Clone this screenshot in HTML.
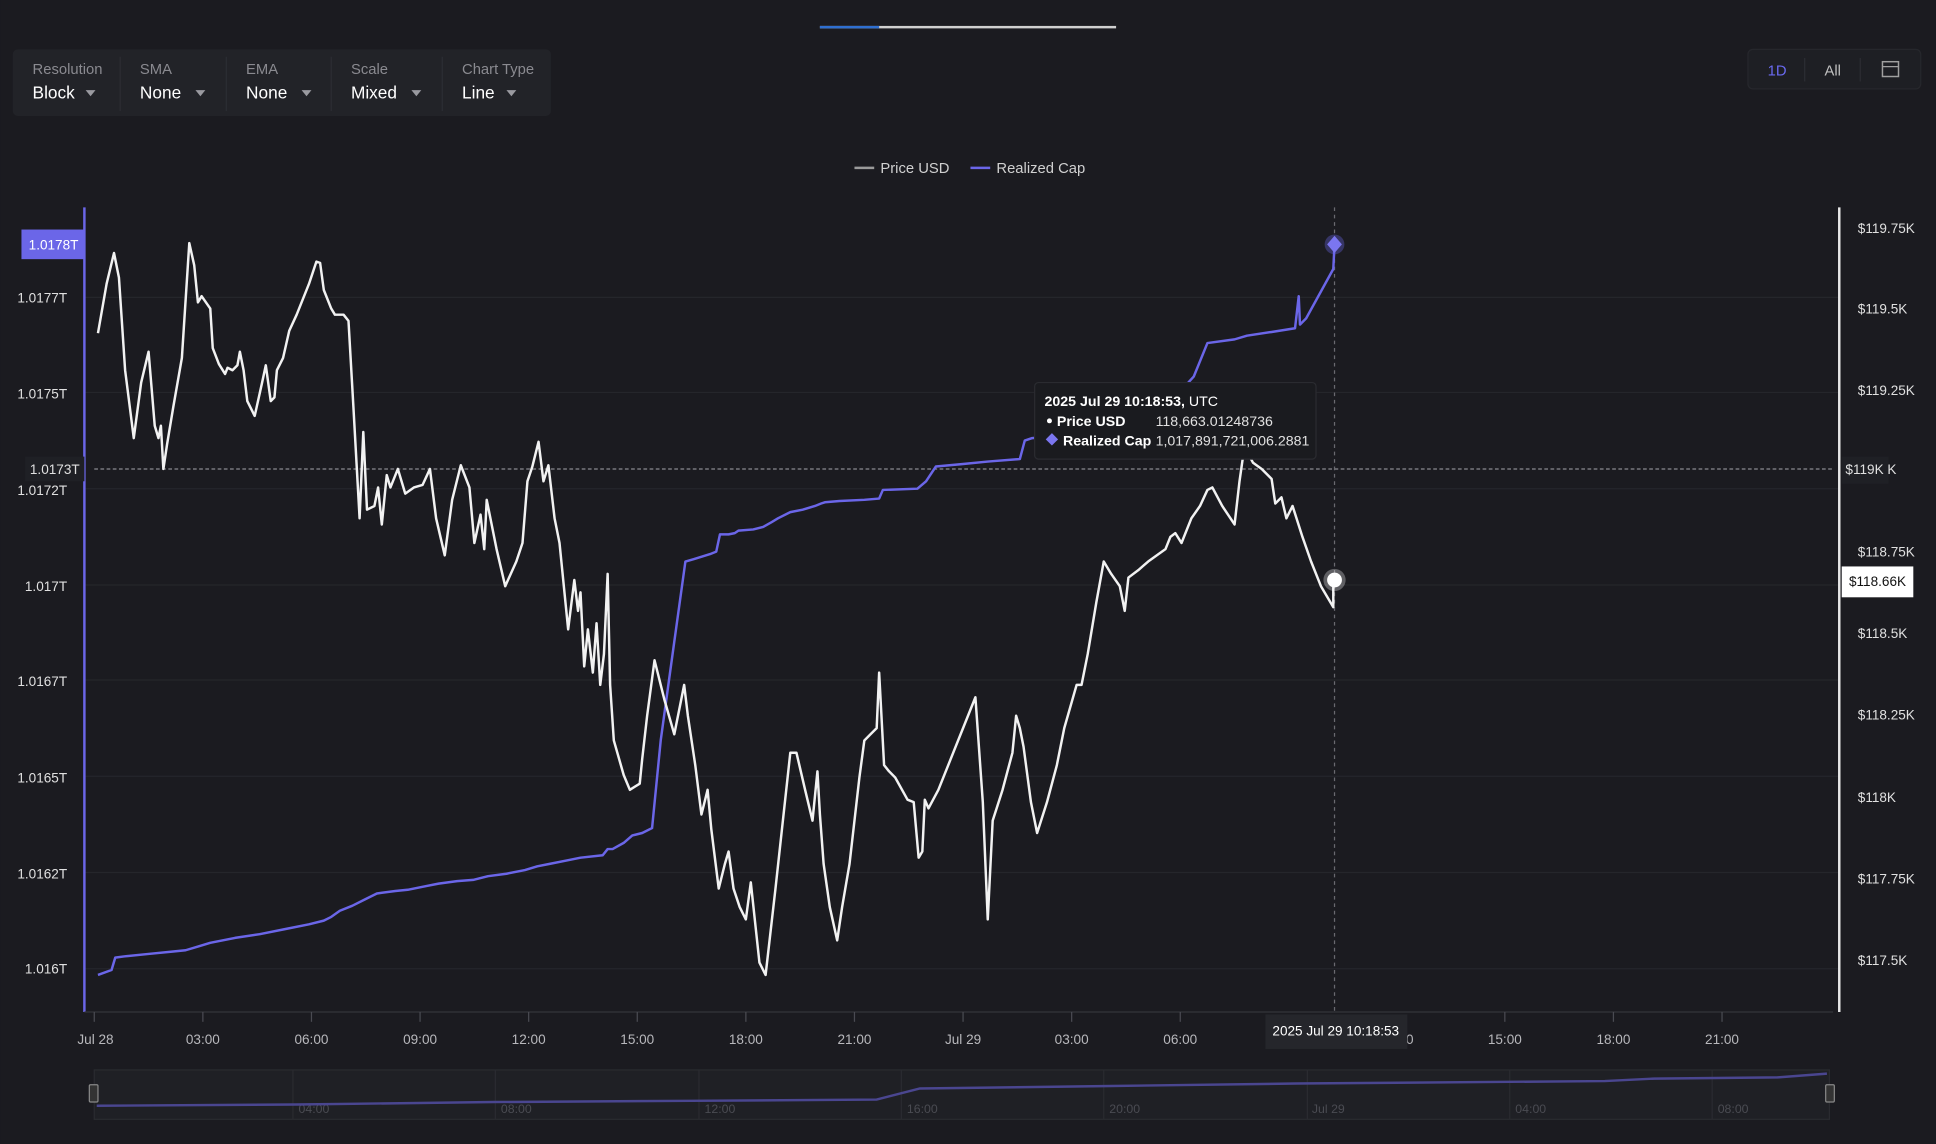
<!DOCTYPE html>
<html><head><meta charset="utf-8"><style>
html,body{margin:0;padding:0;background:#1b1b20;}
svg{display:block;font-family:"Liberation Sans",sans-serif;}
</style></head><body>
<svg width="1936" height="1144" viewBox="0 0 1568 927" xmlns="http://www.w3.org/2000/svg">
<rect width="1568" height="927" fill="#1b1b20"/>
<!-- progress bar -->
<rect x="664" y="21" width="240" height="2" fill="#d0d0d0"/>
<rect x="664" y="21" width="48" height="2" fill="#2f6fd0"/>
<!-- toolbar -->
<rect x="10" y="40" width="436" height="54" rx="4" fill="#222328"/>
<g fill="#8a8a90" font-size="12">
<text x="26" y="60">Resolution</text><text x="113" y="60">SMA</text><text x="199" y="60">EMA</text><text x="284" y="60">Scale</text><text x="374" y="60">Chart Type</text>
</g>
<g fill="#ffffff" font-size="14">
<text x="26" y="80">Block</text><text x="113" y="80">None</text><text x="199" y="80">None</text><text x="284" y="80">Mixed</text><text x="374" y="80">Line</text>
</g>
<g fill="#9a9aa0">
<path d="M69 73l8 0-4 5z"/><path d="M158 73l8 0-4 5z"/><path d="M244 73l8 0-4 5z"/><path d="M333 73l8 0-4 5z"/><path d="M410 73l8 0-4 5z"/>
</g>
<g stroke="#2c2d33"><line x1="97" y1="46" x2="97" y2="90"/><line x1="183" y1="46" x2="183" y2="90"/><line x1="268" y1="46" x2="268" y2="90"/><line x1="358" y1="46" x2="358" y2="90"/></g>
<!-- right buttons -->
<rect x="1416" y="40" width="140" height="32" rx="4" fill="#1e1f24" stroke="#26272c"/>
<text x="1432" y="61" fill="#6a6af0" font-size="12">1D</text>
<text x="1478" y="61" fill="#c0c0c0" font-size="12">All</text>
<line x1="1462" y1="47" x2="1462" y2="66" stroke="#2c2d33"/><line x1="1507" y1="47" x2="1507" y2="66" stroke="#2c2d33"/>
<rect x="1525" y="50" width="13" height="12" fill="none" stroke="#a0a0a0" stroke-width="1.2"/><line x1="1525" y1="54" x2="1538" y2="54" stroke="#a0a0a0"/>
<!-- legend -->
<line x1="692" y1="136" x2="708" y2="136" stroke="#9a9a9a" stroke-width="2"/>
<text x="713" y="140" fill="#d0d0d0" font-size="12">Price USD</text>
<line x1="786" y1="136" x2="802" y2="136" stroke="#6b66e8" stroke-width="2"/>
<text x="807" y="140" fill="#d0d0d0" font-size="12">Realized Cap</text>
<!-- grid -->
<g stroke="#25262b" stroke-width="1">
<line x1="68" y1="241" x2="1490" y2="241"/><line x1="68" y1="318" x2="1490" y2="318"/><line x1="68" y1="396" x2="1490" y2="396"/><line x1="68" y1="474" x2="1490" y2="474"/><line x1="68" y1="551" x2="1490" y2="551"/><line x1="68" y1="629" x2="1490" y2="629"/><line x1="68" y1="707" x2="1490" y2="707"/><line x1="68" y1="785" x2="1490" y2="785"/>
</g>
<!-- axes -->
<line x1="68" y1="168" x2="68" y2="820" stroke="#6b66e8" stroke-width="2"/>
<line x1="1490" y1="168" x2="1490" y2="820" stroke="#e8e8e8" stroke-width="2"/>
<line x1="68" y1="820" x2="1485" y2="820" stroke="#34353b"/>
<g stroke="#4a4b52">
<line x1="76" y1="820" x2="76" y2="828"/><line x1="164" y1="820" x2="164" y2="828"/><line x1="252" y1="820" x2="252" y2="828"/><line x1="340" y1="820" x2="340" y2="828"/><line x1="428" y1="820" x2="428" y2="828"/><line x1="516" y1="820" x2="516" y2="828"/><line x1="604" y1="820" x2="604" y2="828"/><line x1="692" y1="820" x2="692" y2="828"/><line x1="780" y1="820" x2="780" y2="828"/><line x1="868" y1="820" x2="868" y2="828"/><line x1="956" y1="820" x2="956" y2="828"/><line x1="1219" y1="820" x2="1219" y2="828"/><line x1="1307" y1="820" x2="1307" y2="828"/><line x1="1395" y1="820" x2="1395" y2="828"/>
</g>
<g fill="#b8b8bc" font-size="11" text-anchor="middle">
<text x="77" y="846">Jul 28</text><text x="164" y="846">03:00</text><text x="252" y="846">06:00</text><text x="340" y="846">09:00</text><text x="428" y="846">12:00</text><text x="516" y="846">15:00</text><text x="604" y="846">18:00</text><text x="692" y="846">21:00</text><text x="780" y="846">Jul 29</text><text x="868" y="846">03:00</text><text x="956" y="846">06:00</text><text x="1142" y="846">0</text><text x="1219" y="846">15:00</text><text x="1307" y="846">18:00</text><text x="1395" y="846">21:00</text>
</g>
<g fill="#e0e0e0" font-size="11" text-anchor="end">
<text x="54" y="245">1.0177T</text><text x="54" y="323">1.0175T</text><text x="54" y="401">1.0172T</text><text x="54" y="479">1.017T</text><text x="54" y="556">1.0167T</text><text x="54" y="634">1.0165T</text><text x="54" y="712">1.0162T</text><text x="54" y="789">1.016T</text>
</g>
<g fill="#e0e0e0" font-size="11">
<text x="1505" y="189">$119.75K</text><text x="1505" y="254">$119.5K</text><text x="1505" y="320">$119.25K</text><text x="1505" y="451">$118.75K</text><text x="1505" y="517">$118.5K</text><text x="1505" y="583">$118.25K</text><text x="1505" y="650">$118K</text><text x="1505" y="716">$117.75K</text><text x="1505" y="782">$117.5K</text>
</g>
<!-- crosshair -->
<line x1="76" y1="380" x2="1485" y2="380" stroke="#8a8a90" stroke-dasharray="3,2"/>
<line x1="1081" y1="168" x2="1081" y2="820" stroke="#6a6a70" stroke-dasharray="3,3"/>
<!-- realized cap -->
<polyline fill="none" stroke="#6b66e8" stroke-width="2" stroke-linejoin="round" points="79,790 90,786 93,776 100,775 120,773 140,771 150,770 160,767 170,764 190,760 210,757 230,753 250,749 262,746 268,743 275,738 285,734 295,729 305,724 320,722 330,721 345,718 355,716 370,714 383,713 395,710 410,708 425,705 435,702 445,700 460,697 470,695 488,693 492,688 496,688 505,683 512,677 520,675 528,671 535,600 546,520 555,455 562,453 575,449 580,447 583,433 590,433 595,432 598,430 610,429 618,427 625,423 630,420 640,415 650,413 660,410 665,408 668,407 680,406 700,405 712,404 715,397 743,396 750,390 758,378 780,376 800,374 826,372 830,357 836,355 860,353 900,345 940,335 967,305 978,278 1000,275 1010,272 1030,269 1049,266 1052,240 1053,263 1058,258 1080,218 1081,198"/>
<!-- price -->
<polyline fill="none" stroke="#f2f2f2" stroke-width="2" stroke-linejoin="round" points="79,270 86,230 92,205 96,225 101,300 108,355 114,310 120,285 125,345 128,355 130,345 132,380 135,360 140,330 147,290 153,197 157,215 160,245 163,240 170,250 172,282 177,295 182,303 184,298 188,300 192,296 194,285 197,300 200,325 206,337 212,310 215,296 219,325 222,322 224,300 229,290 234,268 240,255 250,230 256,212 259,213 262,235 268,250 271,255 278,255 282,260 286,330 291,420 294,350 297,413 303,410 306,395 309,425 313,385 316,395 322,380 328,400 335,395 342,393 348,380 353,420 360,450 366,405 373,377 380,395 384,440 389,417 392,445 394,405 402,445 409,475 418,455 423,440 427,390 431,378 436,358 440,390 444,377 449,420 453,440 460,510 465,470 468,495 470,480 473,540 476,510 480,545 483,505 486,555 489,530 492,465 494,555 497,600 505,628 510,640 518,635 520,615 524,580 530,535 538,567 546,595 550,575 554,555 557,580 563,620 568,660 573,640 576,672 582,720 587,700 590,690 594,720 599,735 604,745 608,715 615,780 620,790 628,720 634,665 640,610 645,610 652,640 658,665 662,625 664,660 667,700 672,735 678,762 682,735 688,700 696,630 700,600 705,595 710,590 712,545 716,620 720,625 725,630 735,648 740,650 744,695 747,690 749,648 752,655 760,640 770,615 780,590 790,565 796,650 800,745 804,665 812,640 820,610 823,580 826,590 829,605 835,650 840,675 848,650 856,620 862,590 872,555 876,555 881,530 888,488 894,455 900,465 907,475 911,495 914,468 922,462 930,455 944,445 948,435 952,432 957,440 965,420 972,410 978,397 982,395 990,410 1000,425 1004,390 1008,362 1015,375 1022,380 1030,388 1033,408 1038,403 1042,420 1047,410 1055,435 1062,455 1070,475 1080,492 1080,470"/>
<!-- markers -->
<circle cx="1081" cy="198" r="8" fill="#6b66e8" opacity="0.35"/>
<path d="M1081 191l6 7-6 7-6-7z" fill="#7b76f0"/>
<circle cx="1081" cy="470" r="9" fill="#ffffff" opacity="0.3"/>
<circle cx="1081" cy="470" r="6" fill="#ffffff"/>
<!-- tooltip -->
<rect x="838" y="310" width="228" height="62" rx="3" fill="#1a1b1f" stroke="#2a2b30"/>
<text x="846" y="329" fill="#ffffff" font-size="11.5"><tspan font-weight="bold">2025 Jul 29 10:18:53,</tspan> UTC</text>
<circle cx="850" cy="341" r="2" fill="#fff"/>
<text x="856" y="345" fill="#ffffff" font-size="11.5" font-weight="bold">Price USD</text>
<text x="936" y="345" fill="#e0e0e0" font-size="11.5">118,663.01248736</text>
<path d="M852 351l5 5-5 5-5-5z" fill="#7b76f0"/>
<text x="861" y="361" fill="#ffffff" font-size="11.5" font-weight="bold">Realized Cap</text>
<text x="936" y="361" fill="#e0e0e0" font-size="11.5">1,017,891,721,006.2881</text>
<!-- axis labels boxes -->
<rect x="17" y="186" width="51" height="24" fill="#6b66e8"/>
<text x="43" y="202" fill="#ffffff" font-size="11" text-anchor="middle">1.0178T</text>
<rect x="20" y="370" width="48" height="20" fill="#1f2025"/>
<text x="44" y="384" fill="#e0e0e0" font-size="11" text-anchor="middle">1.0173T</text>
<rect x="1492" y="370" width="38" height="22" fill="#1f2025"/>
<text x="1495" y="384" fill="#e0e0e0" font-size="11">$119K  K</text>
<rect x="1492" y="459" width="58" height="25" fill="#ffffff"/>
<text x="1521" y="475" fill="#111" font-size="11" text-anchor="middle">$118.66K</text>
<rect x="1025" y="822" width="115" height="28" fill="#25262b"/>
<text x="1082" y="839" fill="#ffffff" font-size="11" text-anchor="middle">2025 Jul 29 10:18:53</text>
<!-- navigator -->
<rect x="76" y="867" width="1406" height="40" fill="#1f2025" stroke="#2a2b30"/>
<g stroke="#2a2b30"><line x1="237" y1="867" x2="237" y2="907"/><line x1="401" y1="867" x2="401" y2="907"/><line x1="566" y1="867" x2="566" y2="907"/><line x1="730" y1="867" x2="730" y2="907"/><line x1="894" y1="867" x2="894" y2="907"/><line x1="1059" y1="867" x2="1059" y2="907"/><line x1="1223" y1="867" x2="1223" y2="907"/><line x1="1387" y1="867" x2="1387" y2="907"/></g>
<g fill="#4a4b52" font-size="10" text-anchor="middle">
<text x="254" y="902">04:00</text><text x="418" y="902">08:00</text><text x="583" y="902">12:00</text><text x="747" y="902">16:00</text><text x="911" y="902">20:00</text><text x="1076" y="902">Jul 29</text><text x="1240" y="902">04:00</text><text x="1404" y="902">08:00</text>
</g>
<polyline fill="none" stroke="#4a4690" stroke-width="2" points="78,896 240,895 400,893 560,892 710,891 745,882 900,880 1050,878 1300,876 1340,874 1440,873 1480,870"/>
<rect x="72" y="879" width="7" height="14" rx="1" fill="#333" stroke="#888"/>
<rect x="1479" y="879" width="7" height="14" rx="1" fill="#333" stroke="#888"/>
</svg>
</body></html>
